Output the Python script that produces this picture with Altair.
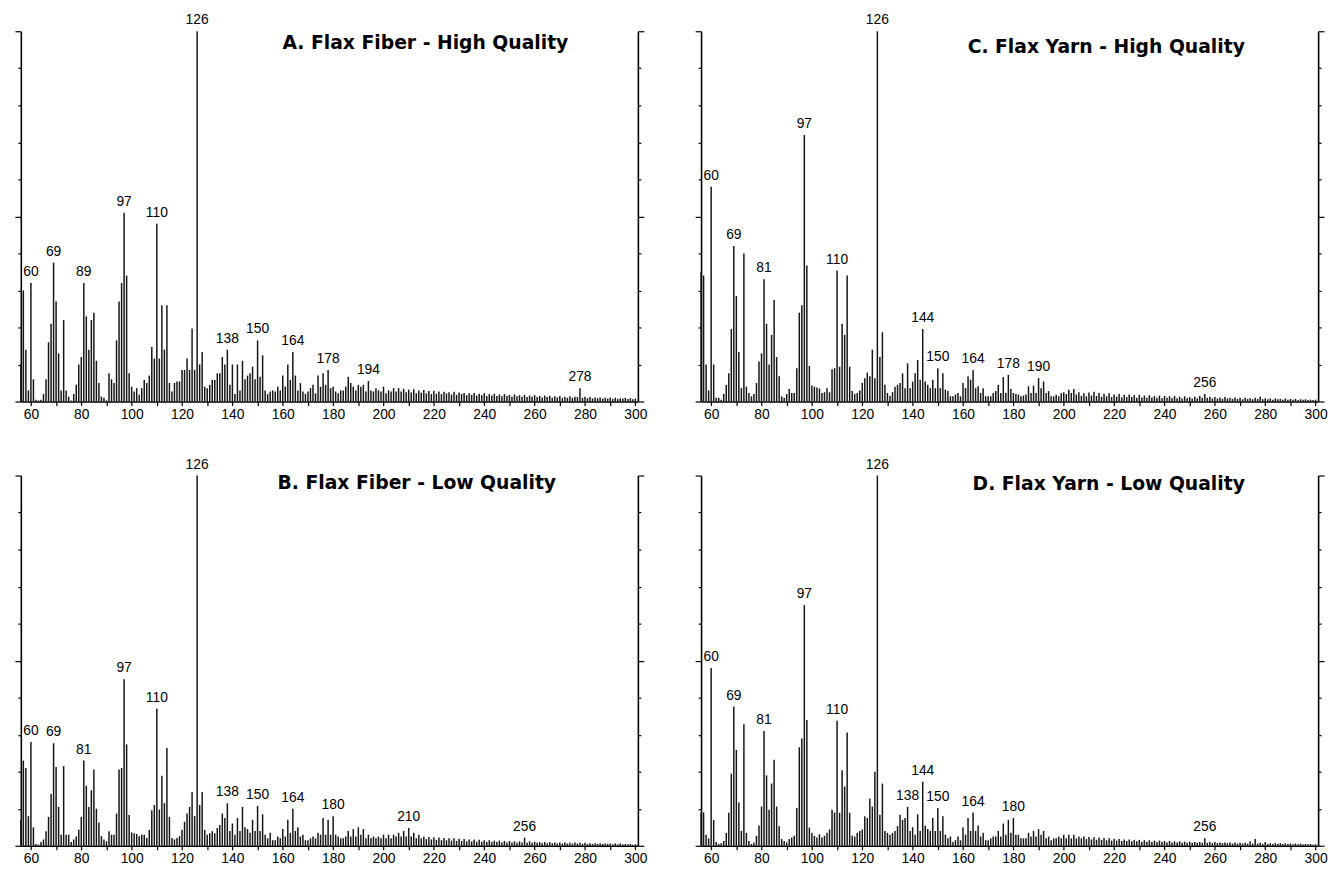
import altair as alt
import pandas as pd

# m/z axis of every spectrum starts here and runs in steps of 1 up to 300
MZ_START = 56

# ---- A. Flax Fiber - High Quality (relative intensity, %) ----
A_VALUES = [
    10, 30, 14, 3, 32, 6, 0.5, 0.3, 0.5, 2,
    6, 16, 21, 37.5, 27, 13, 3, 22, 3, 1.3,
    0.3, 2, 4.5, 10, 12, 32, 23, 14, 22, 24,
    11, 5, 1.3, 1, 0.3, 7.6, 6, 5, 16.5, 27,
    32, 51, 34, 7.6, 4, 2.7, 3.6, 1.8, 3.6, 5.8,
    5, 7, 14.7, 11.6, 48, 11.6, 26, 14, 26, 5,
    2.7, 5, 5.4, 5.4, 8.5, 8.5, 11.6, 8.5, 19.7, 8.5,
    100, 10, 13.4, 4, 3.6, 4.5, 5.8, 5.8, 7.6, 7.6,
    12, 10, 14, 4.5, 10, 2, 10, 3, 11, 6,
    7, 7.6, 9.4, 6, 16.5, 6.7, 12.5, 3, 2, 2.7,
    3, 2.7, 4, 3, 7, 4, 10, 5.8, 13.4, 7,
    3, 5, 2.7, 2, 2.7, 3.6, 4.5, 2.2, 7, 4,
    7.6, 4.5, 8.5, 3.6, 4, 2.7, 2.2, 3, 3, 4,
    6.7, 5, 4, 3, 4.5, 4, 4.5, 2.7, 5.5, 3,
    2.7, 3.6, 3, 2.7, 4, 2.2, 3, 2.7, 3.6, 2.7,
    3.6, 2.7, 3.4, 2.5, 3.2, 2.4, 3.3, 2.2, 3, 2.4,
    3.1, 2.2, 2.8, 2, 2.9, 2.1, 2.7, 2, 2.6, 2.2,
    2.5, 1.9, 2.6, 1.8, 2.4, 2, 2.3, 1.7, 2.2, 1.8,
    2.3, 1.6, 2.1, 1.7, 2.2, 1.5, 2, 1.6, 2.1, 1.5,
    1.9, 1.4, 2, 1.5, 1.8, 1.3, 1.9, 1.4, 1.7, 1.3,
    1.8, 1.2, 1.6, 1.3, 1.7, 1.2, 1.5, 1.1, 1.6, 1.2,
    1.5, 1, 1.4, 1.1, 1.5, 1, 1.3, 1, 1.4, 1,
    1.3, 1.2, 3.6, 1, 1.3, 0.9, 1.2, 0.8, 1.1, 0.9,
    1.1, 0.8, 1, 0.8, 1.1, 0.7, 1, 0.7, 0.9, 0.8,
    1, 0.7, 0.9, 0.6, 0.8,
]
A_LABEL_MZ = [60, 69, 81, 97, 110, 126, 138, 150, 164, 178, 194, 278]
A_LABEL_TEXT = ["60", "69", "89", "97", "110", "126", "138", "150", "164", "178", "194", "278"]

# ---- B. Flax Fiber - Low Quality ----
B_VALUES = [
    7, 23, 21, 8, 28, 5, 0.5, 0.3, 1, 1.7,
    3.9, 7.8, 14, 27.7, 21.3, 10.5, 3, 21.5, 3, 3,
    1, 1.7, 2.5, 4.3, 7.8, 23, 16.2, 10.5, 15, 20.6,
    10, 6.3, 2.6, 1.7, 1.2, 3.9, 3, 3, 8.7, 20.6,
    21, 45, 27.4, 8.3, 3.6, 3.4, 3.2, 2.6, 3, 3,
    2.1, 4.3, 9.6, 11, 37, 9.8, 18.9, 11.5, 26.4, 7.8,
    2.1, 1.7, 2.1, 2.6, 4.3, 6.5, 8.7, 10.5, 14.5, 8,
    100, 11, 14.5, 4.3, 3, 3.4, 3.9, 3.4, 4.8, 5.6,
    8.7, 7.5, 11.5, 4, 6, 3, 7.5, 4, 10.5, 5,
    4.5, 3.5, 7, 4, 10.8, 4, 8.5, 3, 2, 3.5,
    1.5, 1.5, 2.5, 2, 4.5, 2.5, 7, 3.5, 10, 4,
    5, 2.5, 3, 1.5, 1.5, 2, 2.5, 2, 3.5, 3,
    7.5, 3, 7, 3, 8, 3, 2.5, 2, 2, 2.5,
    4, 2.5, 4.5, 2.5, 5, 3, 4.5, 2, 3, 2,
    2.5, 2, 2.5, 2, 3, 2, 3, 2, 3, 2.5,
    3.5, 2.5, 4, 2.5, 4.8, 2.5, 3.5, 2, 3, 2,
    2.5, 1.8, 2.4, 1.7, 2.3, 1.6, 2.2, 1.5, 2.1, 1.5,
    2, 1.4, 2, 1.3, 1.9, 1.3, 1.8, 1.2, 1.7, 1.2,
    1.7, 1.1, 1.6, 1.1, 1.5, 1, 1.5, 1, 1.4, 1,
    1.4, 0.9, 1.3, 0.9, 1.3, 0.9, 1.2, 0.8, 1.2, 0.9,
    2.2, 0.8, 1.2, 0.8, 1.1, 0.8, 1, 0.7, 1, 0.7,
    1, 0.7, 0.9, 0.6, 0.9, 0.6, 0.9, 0.6, 0.8, 0.6,
    0.9, 0.6, 0.8, 0.5, 0.8, 0.5, 0.7, 0.5, 0.7, 0.5,
    0.7, 0.5, 0.6, 0.5, 0.6, 0.4, 0.6, 0.4, 0.6, 0.4,
    0.5, 0.4, 0.5, 0.3, 0.4,
]
B_LABEL_MZ = [60, 69, 81, 97, 110, 126, 138, 150, 164, 180, 210, 256]
B_LABEL_TEXT = ["60", "69", "81", "97", "110", "126", "138", "150", "164", "180", "210", "256"]

# ---- C. Flax Yarn - High Quality ----
C_VALUES = [
    35, 34, 10, 3, 58, 10, 1, 1, 0.5, 2,
    4.5, 7.6, 19.6, 42, 28.5, 13.4, 3.6, 40, 4, 2.3,
    1.4, 2, 5, 10.8, 13, 33, 21, 10, 18, 27.4,
    12, 6.8, 1.4, 1, 2, 3.4, 2.3, 2.3, 9, 24,
    26, 72, 36.7, 9.6, 4.3, 4, 3.8, 3.5, 2.3, 2.5,
    3.6, 2.5, 8.7, 9, 35.4, 9.4, 21, 18, 34, 9.4,
    2.8, 2, 2.3, 3, 5, 6.3, 7.8, 6.8, 14, 6.3,
    100, 12, 18.7, 4.5, 2.3, 1.5, 2.5, 4, 4.5, 5,
    7.6, 3.6, 10.3, 3.6, 5.4, 7.6, 11.2, 5.9, 19.6, 5.4,
    4.5, 3.6, 5.9, 3.6, 9, 3.6, 7.6, 3.2, 2.8, 1.4,
    1.4, 1.9, 2.3, 1.4, 5, 3.6, 6.8, 5.9, 8.5, 3.6,
    4.1, 2.3, 3.6, 1.4, 1.4, 1.4, 2.3, 2.8, 4.5, 2.3,
    6.6, 2.3, 7.2, 3.4, 2.3, 2, 1.9, 1.4, 1.6, 1.9,
    4.1, 2.3, 4.3, 2.3, 6.3, 3.6, 5.4, 2.3, 2.8, 1.4,
    1.4, 1.8, 1.4, 2.2, 2.5, 2, 3.2, 2.3, 3.4, 1.9,
    2.5, 1.5, 2.2, 1.4, 2.4, 1.6, 2.6, 1.5, 2.3, 1.3,
    2.1, 1.4, 2.2, 1.2, 1.9, 1.3, 2, 1.1, 1.8, 1.2,
    1.9, 1.2, 1.7, 1, 1.8, 1.1, 1.6, 1, 1.7, 1.1,
    1.5, 1, 1.6, 0.9, 1.5, 1, 1.4, 0.9, 1.5, 0.9,
    1.3, 0.8, 1.4, 0.9, 1.2, 0.8, 1.3, 0.9, 1.5, 1,
    2, 1, 1.3, 0.8, 1.2, 0.8, 1.1, 0.7, 1.2, 0.8,
    1, 0.7, 1.1, 0.7, 1, 0.6, 1, 0.7, 0.9, 0.6,
    1, 0.7, 1.3, 0.6, 0.9, 0.6, 0.8, 0.5, 0.8, 0.6,
    0.7, 0.5, 0.8, 0.5, 0.7, 0.5, 0.7, 0.4, 0.6, 0.5,
    0.6, 0.4, 0.5, 0.4, 0.5,
]
C_LABEL_MZ = [60, 69, 81, 97, 110, 126, 144, 150, 164, 178, 190, 256]
C_LABEL_TEXT = ["60", "69", "81", "97", "110", "126", "144", "150", "164", "178", "190", "256"]

# ---- D. Flax Yarn - Low Quality ----
D_VALUES = [
    9, 9, 3, 2, 48, 7, 1, 0.5, 0.7, 1.3,
    3.5, 8.9, 19.5, 37.6, 25.9, 11.7, 4, 32.8, 3.5, 1.3,
    0.5, 0.9, 2.7, 5.5, 10.6, 31, 19, 9.7, 16.8, 23.2,
    10.6, 5.3, 1.8, 1.3, 0.9, 1.8, 2.2, 2.7, 10.2, 26.6,
    29, 65, 34, 4.9, 3.5, 2.7, 2.2, 3.1, 2.2, 2.7,
    3.5, 4.4, 9.7, 9, 33.8, 8.9, 20.4, 16, 30.6, 8.9,
    2.7, 2.5, 3.5, 4, 4.4, 8, 7.5, 12.8, 10.6, 20,
    100, 8.4, 16.8, 4, 3.5, 3, 3.5, 4, 5.3, 8.4,
    7, 7.5, 10.5, 4, 5, 3, 8.5, 4, 17.3, 5.5,
    4.5, 4, 7.5, 4, 10.2, 4, 8, 3, 2, 2.5,
    1, 1.5, 2.5, 1.5, 5, 3, 7.5, 4, 9, 4,
    5.5, 2.5, 3.5, 1.5, 1.5, 2, 2.5, 2.5, 4, 2.5,
    6, 3, 7, 3.5, 7.5, 3, 3, 2, 2, 2,
    3.5, 2.5, 4, 2.5, 4.5, 3, 4, 2, 2.5, 1.5,
    2, 2, 2.5, 2, 3, 2, 3, 2, 3, 2,
    2.5, 2, 2.5, 1.8, 2.4, 1.7, 2.3, 1.6, 2.2, 1.6,
    2.1, 1.5, 2, 1.4, 1.9, 1.4, 1.8, 1.3, 1.7, 1.3,
    1.7, 1.2, 1.6, 1.2, 1.6, 1.1, 1.5, 1.1, 1.5, 1,
    1.4, 1, 1.4, 1, 1.3, 0.9, 1.3, 0.9, 1.2, 0.9,
    1.2, 0.8, 1.1, 0.8, 1.1, 0.8, 1, 0.8, 1, 0.8,
    2, 0.8, 1, 0.7, 1, 0.7, 0.9, 0.7, 0.9, 0.7,
    0.9, 0.6, 0.9, 0.6, 0.8, 0.6, 0.8, 0.6, 1.2, 0.6,
    1.8, 0.6, 0.8, 0.5, 1, 0.5, 0.7, 0.5, 0.7, 0.5,
    0.7, 0.5, 0.6, 0.5, 0.6, 0.4, 0.6, 0.4, 0.6, 0.4,
    0.5, 0.4, 0.5, 0.3, 0.4,
]
D_LABEL_MZ = [60, 69, 81, 97, 110, 126, 138, 144, 150, 164, 180, 256]
D_LABEL_TEXT = ["60", "69", "81", "97", "110", "126", "138", "144", "150", "164", "180", "256"]

X_TICKS = list(range(60, 301, 10))
Y_TICKS = list(range(0, 101, 10))

PANEL_W = 625
PANEL_H = 375
FONT = "Liberation Sans"


def panel(title, values, label_mz, label_text, title_dx, title_dy):
    mz = list(range(MZ_START, MZ_START + len(values)))
    df = pd.DataFrame({"mz": mz, "v": values})
    lookup = dict(zip(mz, values))
    ldf = pd.DataFrame({
        "mz": label_mz,
        "v": [lookup[m] for m in label_mz],
        "t": label_text,
    })

    x_scale = alt.Scale(domain=[56, 301], nice=False, zero=False)
    y_scale = alt.Scale(domain=[0, 100], nice=False, zero=True)
    x_axis = alt.Axis(
        values=X_TICKS,
        labelExpr="datum.value % 20 === 0 ? datum.label : ''",
        title=None, grid=False, tickSize=4, labelPadding=2,
        domainWidth=1.5, tickWidth=1.2,
    )
    tick_size = {"condition": {"test": "datum.value % 50 === 0", "value": 6}, "value": 3}
    y_axis_left = alt.Axis(orient="left", values=Y_TICKS, labels=False, title=None,
                           grid=False, tickSize=tick_size, domainWidth=1.6, tickWidth=1.2)
    y_axis_right = alt.Axis(orient="right", values=Y_TICKS, labels=False, title=None,
                            grid=False, tickSize=tick_size, domainWidth=1.6, tickWidth=1.2)

    bars = alt.Chart(df).mark_rule(color="#151515", strokeWidth=1.5).encode(
        x=alt.X("mz:Q", scale=x_scale, axis=x_axis),
        y=alt.Y("v:Q", scale=y_scale, axis=y_axis_left),
        y2=alt.datum(0),
    )
    labels = alt.Chart(ldf).mark_text(
        baseline="bottom", dy=-4, fontSize=14, font=FONT, color="black"
    ).encode(
        x=alt.X("mz:Q", scale=x_scale, axis=x_axis),
        y=alt.Y("v:Q", scale=y_scale, axis=y_axis_right),
        text="t:N",
    )
    return alt.layer(bars, labels).resolve_axis(y="independent").properties(
        width=PANEL_W,
        height=PANEL_H,
        title=alt.TitleParams(
            text=title, anchor="start", frame="group", dx=title_dx, dy=title_dy,
            offset=0, font="DejaVu Sans", fontSize=19, fontWeight="bold", color="black",
        ),
    )


pa = panel("A. Flax Fiber - High Quality", A_VALUES, A_LABEL_MZ, A_LABEL_TEXT, 265, 40)
pb = panel("B. Flax Fiber - Low Quality", B_VALUES, B_LABEL_MZ, B_LABEL_TEXT, 260, 36)
pc = panel("C. Flax Yarn - High Quality", C_VALUES, C_LABEL_MZ, C_LABEL_TEXT, 270, 44)
pd_ = panel("D. Flax Yarn - Low Quality", D_VALUES, D_LABEL_MZ, D_LABEL_TEXT, 275, 37)

chart = alt.vconcat(
    alt.hconcat(pa, pc, spacing=47),
    alt.hconcat(pb, pd_, spacing=47),
    spacing=37,
).configure(
    padding={"left": 6, "right": 0, "top": 0, "bottom": 0},
).configure_view(
    stroke=None,
).configure_axis(
    labelFont=FONT, labelFontSize=14, labelColor="black",
    domainColor="black", tickColor="black",
)

chart.save("out.html", embed_options={"renderer": "svg", "actions": False})
